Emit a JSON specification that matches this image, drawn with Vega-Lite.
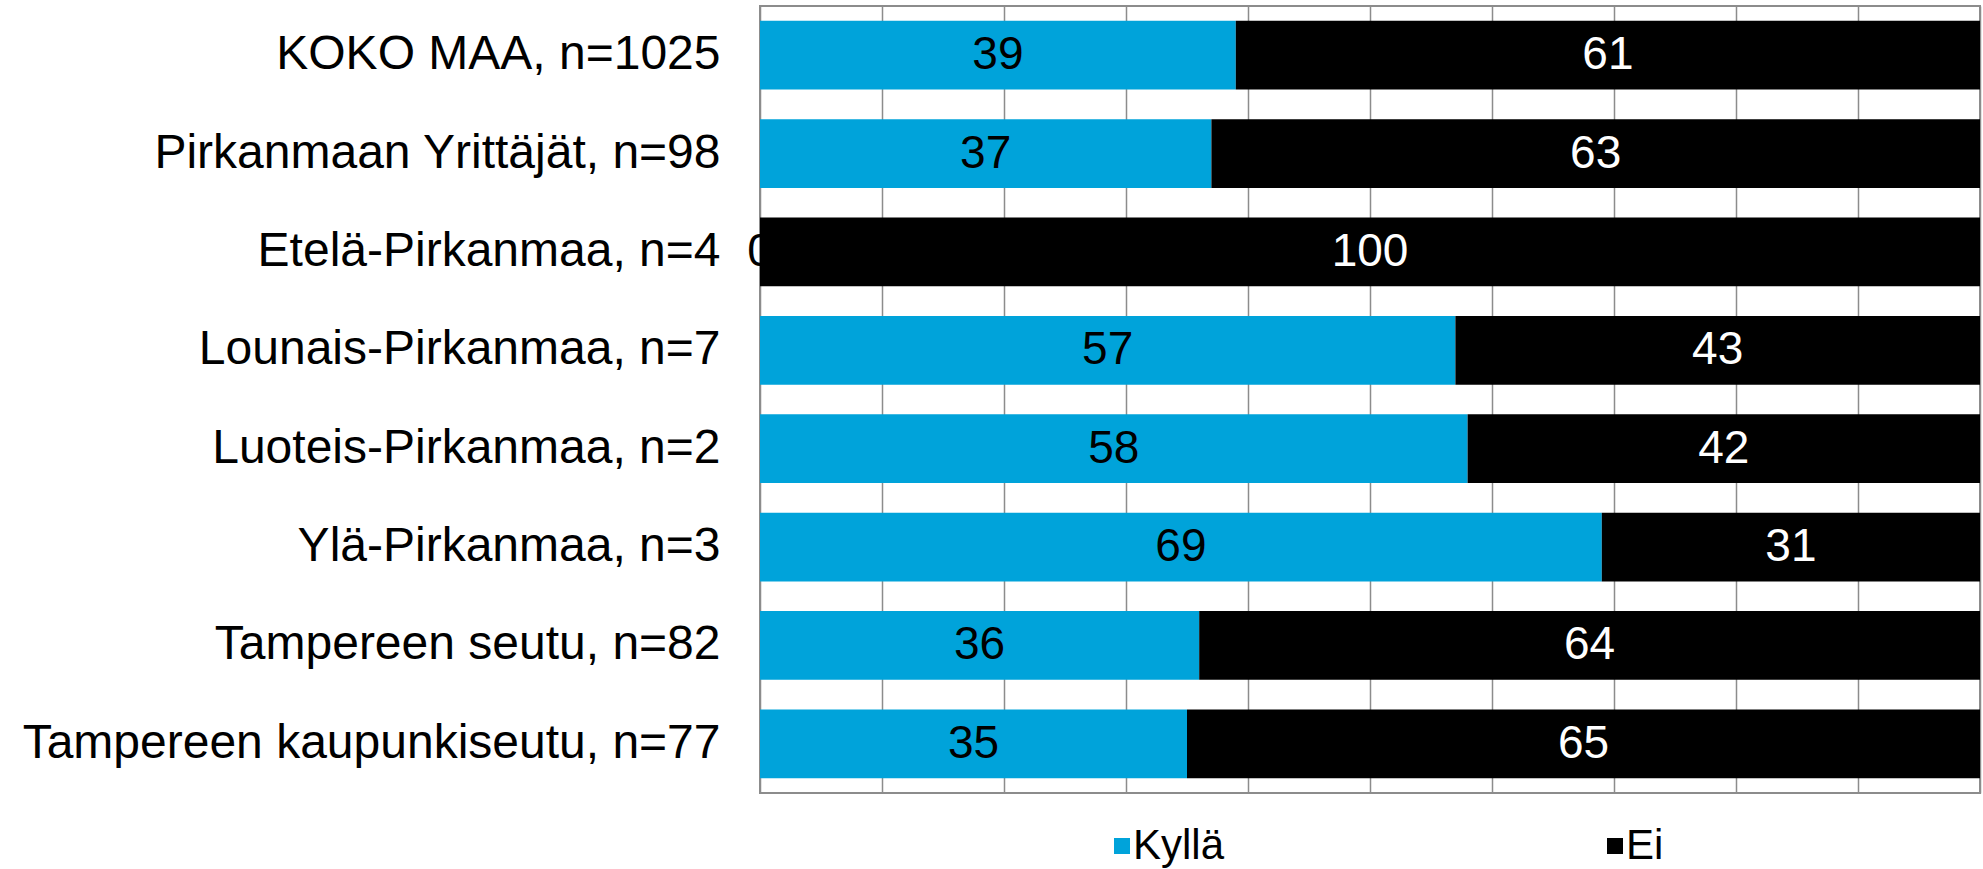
{
  "$schema": "https://vega.github.io/schema/vega-lite/v6.json",
  "autosize": {"type": "none"},
  "padding": {"left": 760, "top": 6, "right": 3, "bottom": 76},
  "width": 1220,
  "height": 787,
  "background": "white",
  "config": {
    "font": "Liberation Sans",
    "view": {"stroke": "#8c8c8c", "strokeWidth": 2}
  },
  "data": {
    "values": [
      {"region": "KOKO MAA, n=1025", "Kyllä": 39, "Ei": 61},
      {"region": "Pirkanmaan Yrittäjät, n=98", "Kyllä": 37, "Ei": 63},
      {"region": "Etelä-Pirkanmaa, n=4", "Kyllä": 0, "Ei": 100},
      {"region": "Lounais-Pirkanmaa, n=7", "Kyllä": 57, "Ei": 43},
      {"region": "Luoteis-Pirkanmaa, n=2", "Kyllä": 58, "Ei": 42},
      {"region": "Ylä-Pirkanmaa, n=3", "Kyllä": 69, "Ei": 31},
      {"region": "Tampereen seutu, n=82", "Kyllä": 36, "Ei": 64},
      {"region": "Tampereen kaupunkiseutu, n=77", "Kyllä": 35, "Ei": 65}
    ]
  },
  "encoding": {
    "y": {
      "field": "region",
      "type": "nominal",
      "sort": null,
      "title": null,
      "scale": {"paddingInner": 0.3, "paddingOuter": 0.15},
      "axis": {
        "domain": false,
        "ticks": false,
        "labelFontSize": 48,
        "labelColor": "#000000",
        "labelPadding": 40,
        "labelLimit": 900
      }
    }
  },
  "layer": [
    {
      "transform": [{"fold": ["Kyllä", "Ei"], "as": ["answer", "value"]}],
      "mark": {"type": "bar"},
      "encoding": {
        "x": {
          "field": "value",
          "type": "quantitative",
          "stack": "zero",
          "title": null,
          "scale": {"domain": [0, 100], "nice": false},
          "axis": {
            "values": [0, 10, 20, 30, 40, 50, 60, 70, 80, 90, 100],
            "grid": true,
            "gridColor": "#8c8c8c",
            "gridWidth": 1.5,
            "labels": false,
            "ticks": false,
            "domain": false
          }
        },
        "color": {
          "field": "answer",
          "type": "nominal",
          "scale": {"domain": ["Kyllä", "Ei"], "range": ["#00A3DA", "#000000"]},
          "legend": {
            "title": null,
            "orient": "none",
            "legendX": 341,
            "legendY": 819,
            "direction": "horizontal",
            "symbolType": "square",
            "symbolSize": 256,
            "symbolStrokeWidth": 0,
            "labelFontSize": 42,
            "labelColor": "#000000",
            "labelOffset": -10,
            "columnPadding": 369
          }
        },
        "order": {"field": "answer", "sort": "descending"}
      }
    },
    {
      "mark": {"type": "text", "fontSize": 46, "baseline": "middle", "align": "center", "color": "#000000"},
      "encoding": {
        "x": {
          "field": "Kyllä",
          "type": "quantitative",
          "scale": {"domain": [0, 200], "nice": false},
          "axis": null
        },
        "text": {"field": "Kyllä", "type": "quantitative"}
      }
    },
    {
      "mark": {"type": "text", "fontSize": 46, "baseline": "middle", "align": "center", "color": "#ffffff"},
      "encoding": {
        "x": {
          "field": "Kyllä",
          "type": "quantitative",
          "scale": {"domain": [-100, 100], "nice": false},
          "axis": null
        },
        "text": {"field": "Ei", "type": "quantitative"}
      }
    }
  ],
  "resolve": {"scale": {"x": "independent"}, "axis": {"x": "independent"}}
}
